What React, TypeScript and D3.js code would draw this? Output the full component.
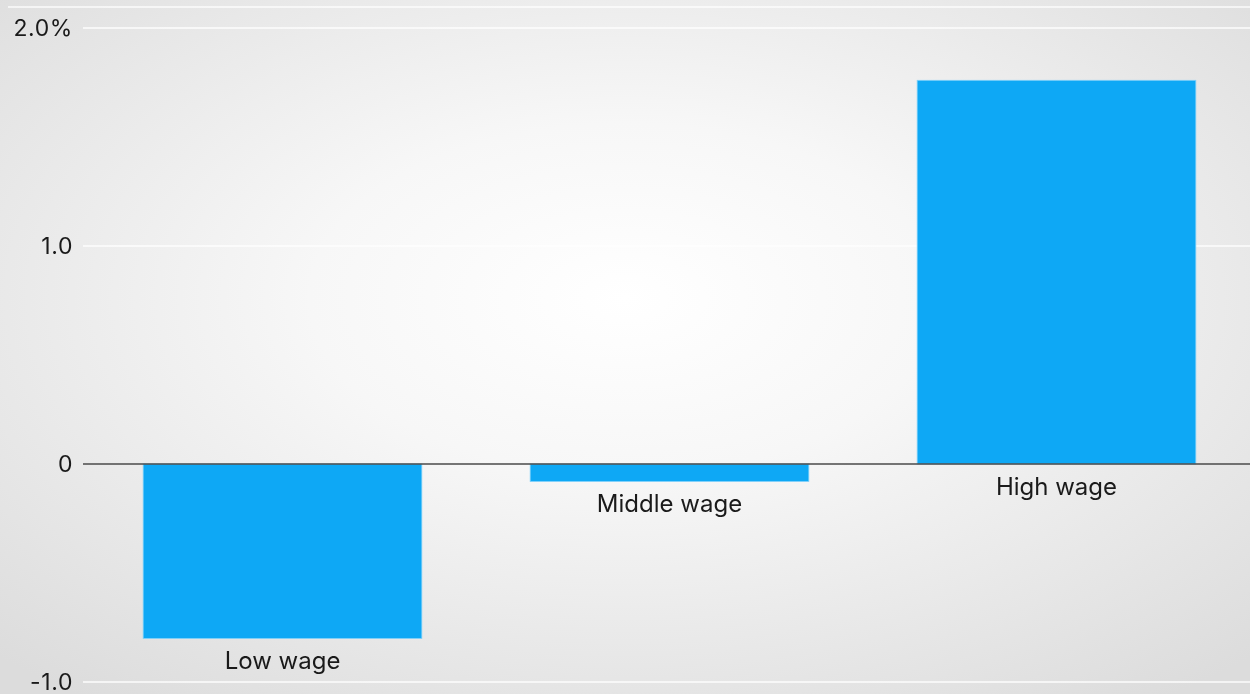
import React from "react";
import * as d3 from "d3";

const categories = ["Low wage", "Middle wage", "High wage"];
const values = [-0.8, -0.08, 1.76];
const ticks = [-1, 0, 1, 2];
const tickLabels = ["-1.0", "0", "1.0", "2.0%"];

const W = 1250;
const H = 694;

export default function App() {
  const y = d3.scaleLinear().domain([-1, 2]).range([682, 28]);
  const x = d3
    .scaleBand<string>()
    .domain(categories)
    .range([89, 1250])
    .paddingInner(0.28)
    .paddingOuter(0.14);
  const font = "Inter, 'Open Sans', sans-serif";
  return (
    <div style={{ position: "fixed", left: 0, top: 0, width: W, height: H }}>
      <svg width={W} height={H} style={{ display: "block" }}>
        <defs>
          <radialGradient id="bg" cx="50%" cy="43%" r="72%">
            <stop offset="0%" stopColor="#ffffff" />
            <stop offset="35%" stopColor="#f7f7f7" />
            <stop offset="100%" stopColor="#dcdcdc" />
          </radialGradient>
        </defs>
        <rect x={0} y={0} width={W} height={H} fill="url(#bg)" />
        <line x1={8} x2={W} y1={7} y2={7} stroke="#ffffff" strokeWidth={1.5} opacity={0.9} />
        {ticks.map((t, i) => (
          <g key={t}>
            {t !== 0 && (
              <line x1={83} x2={W} y1={y(t)} y2={y(t)} stroke="#ffffff" strokeWidth={1.5} opacity={0.95} />
            )}
            <text
              x={73}
              y={y(t)}
              dy="0.36em"
              textAnchor="end"
              fontFamily={font}
              fontSize={23}
              letterSpacing={0.6}
              fill="#1a1a1a"
            >
              {tickLabels[i]}
            </text>
          </g>
        ))}
        {categories.map((c, i) => {
          const v = values[i];
          const top = y(Math.max(0, v));
          const bot = y(Math.min(0, v));
          return (
            <g key={c}>
              <rect
                x={x(c)}
                y={top}
                width={x.bandwidth()}
                height={bot - top}
                fill="#0ea8f5"
                stroke="#7fd0fa"
                strokeWidth={0.8}
              />
              <text
                x={(x(c) as number) + x.bandwidth() / 2}
                y={bot + 31}
                textAnchor="middle"
                fontFamily={font}
                fontSize={24}
                fill="#1a1a1a"
              >
                {c}
              </text>
            </g>
          );
        })}
        <line x1={83} x2={W} y1={y(0)} y2={y(0)} stroke="#4a4a4a" strokeWidth={1.5} />
      </svg>
    </div>
  );
}
